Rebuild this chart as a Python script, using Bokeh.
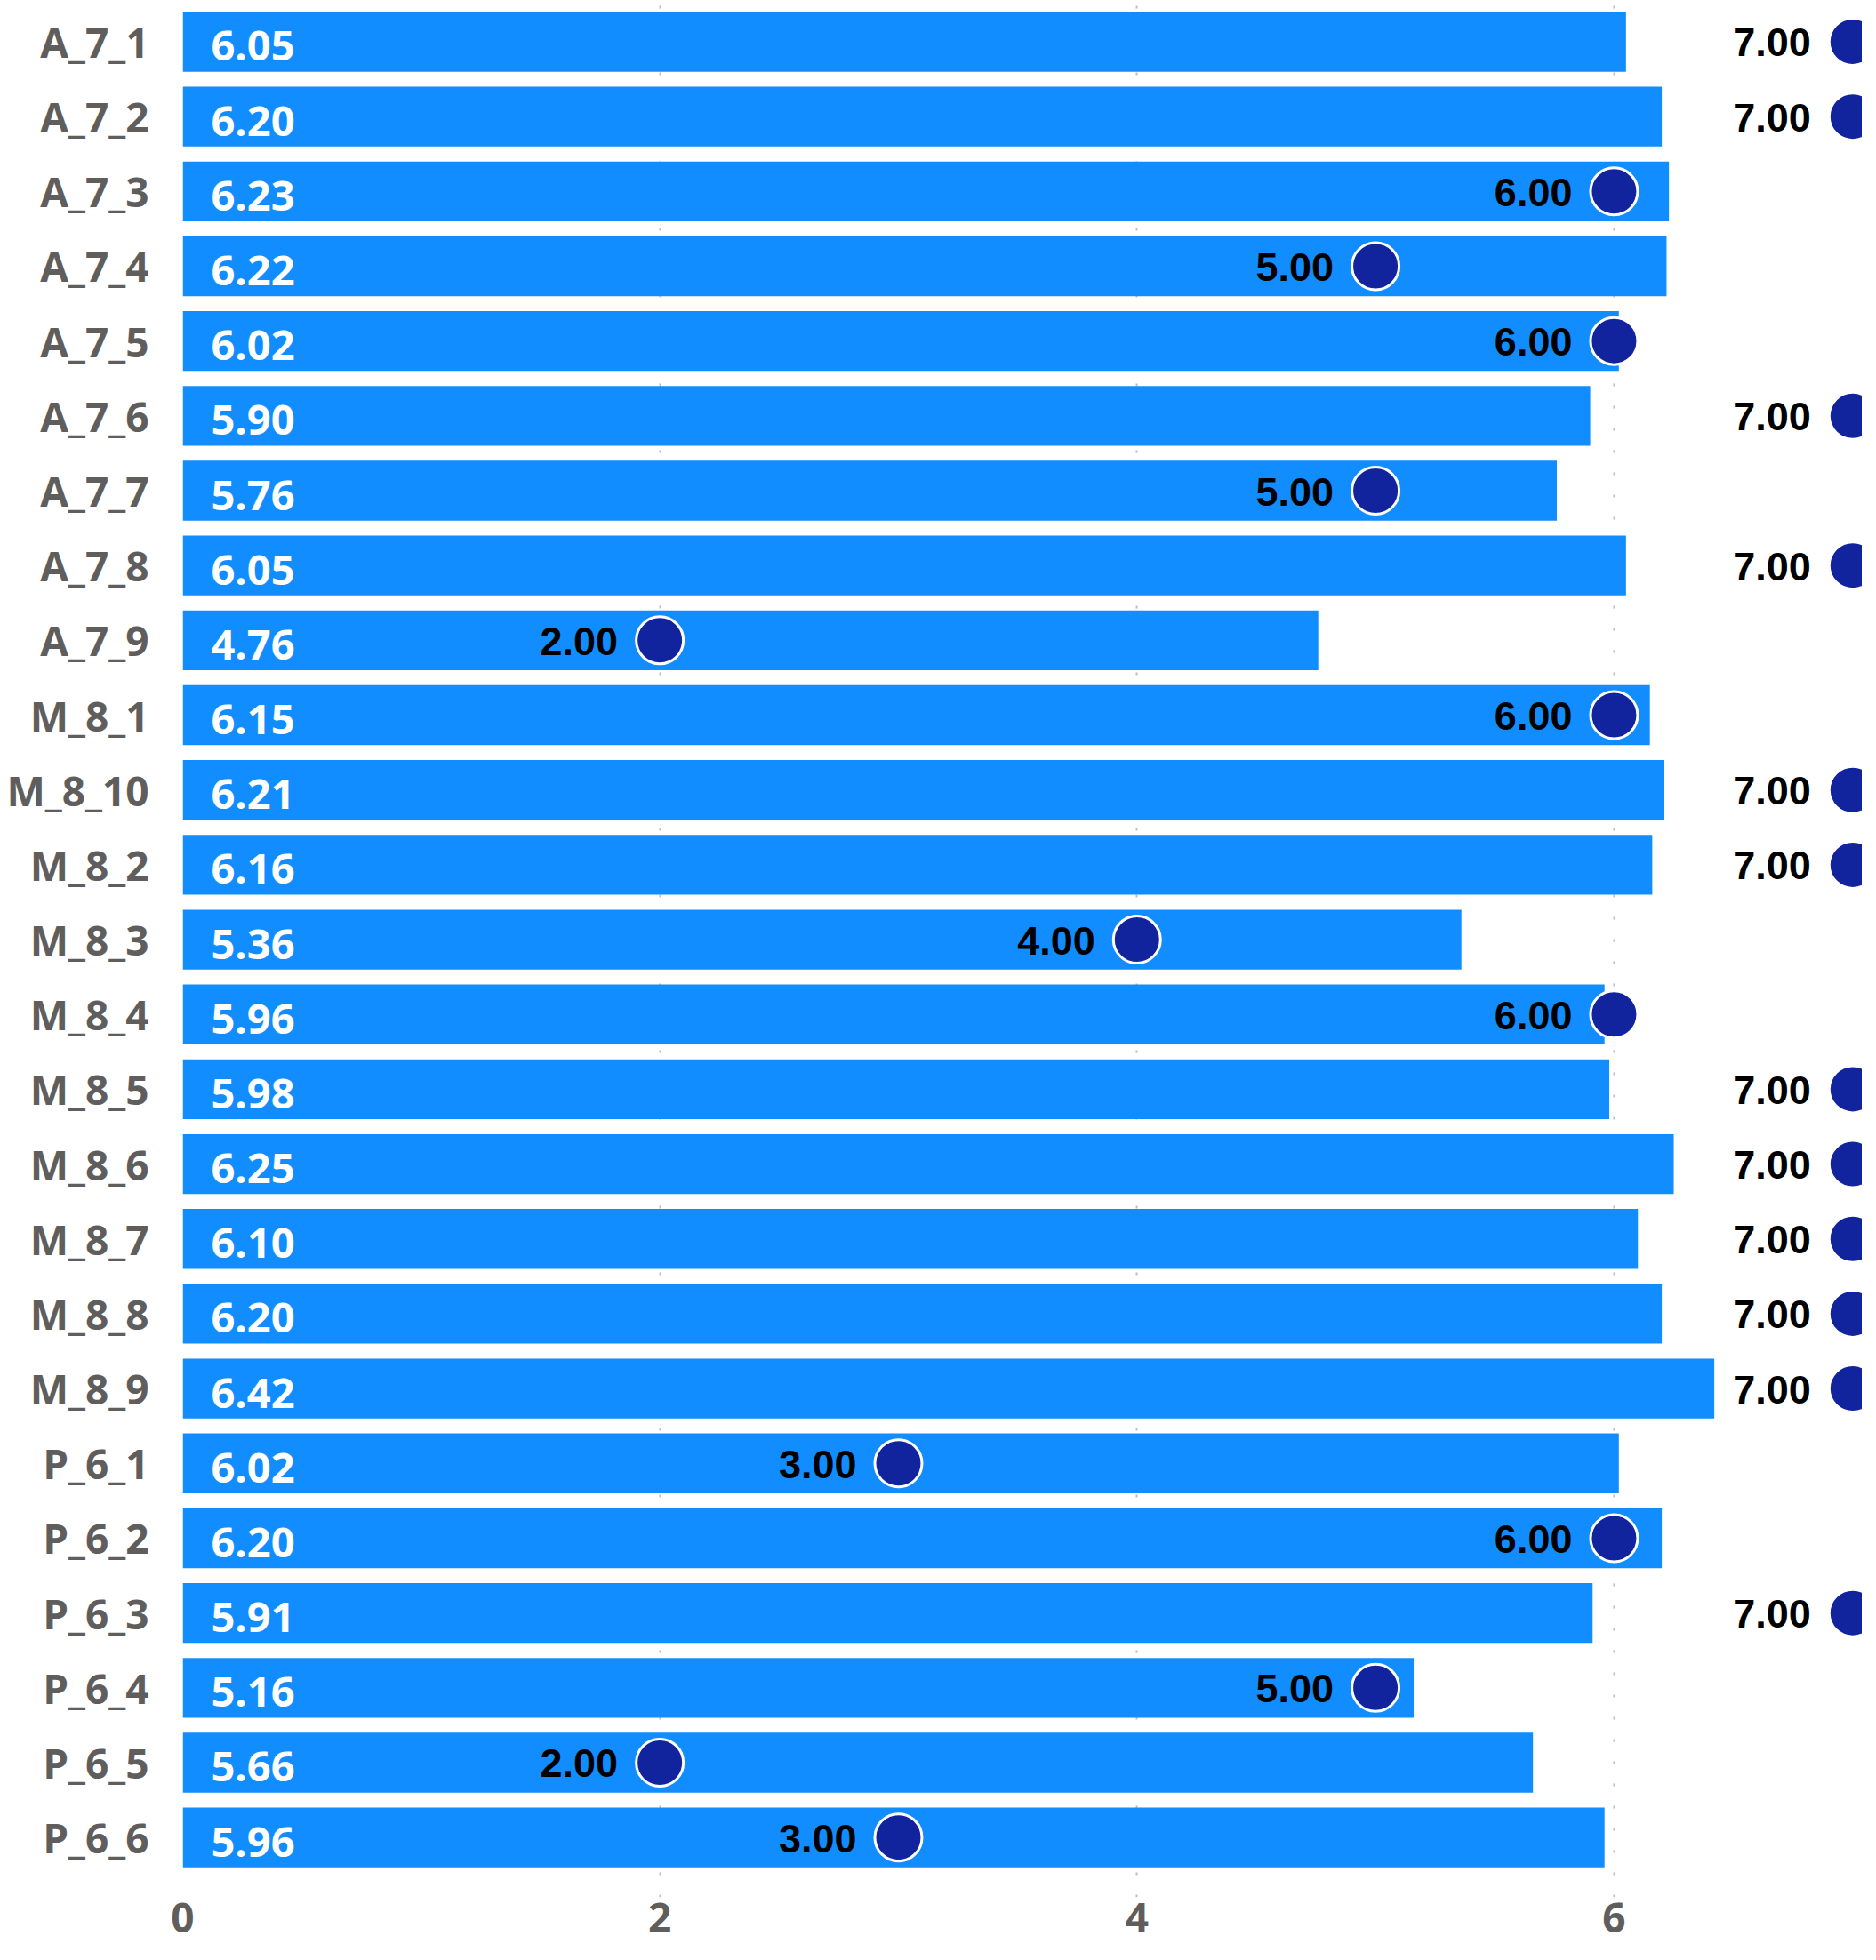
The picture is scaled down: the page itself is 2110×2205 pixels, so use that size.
from bokeh.plotting import figure
from bokeh.models import ColumnDataSource, Range1d, FixedTicker
from bokeh.core.properties import value
from bokeh.embed import file_html
from bokeh.resources import INLINE

categories = ["A_7_1", "A_7_2", "A_7_3", "A_7_4", "A_7_5", "A_7_6", "A_7_7", "A_7_8", "A_7_9",
              "M_8_1", "M_8_10", "M_8_2", "M_8_3", "M_8_4", "M_8_5", "M_8_6", "M_8_7", "M_8_8", "M_8_9",
              "P_6_1", "P_6_2", "P_6_3", "P_6_4", "P_6_5", "P_6_6"]
bar_values = [6.05, 6.20, 6.23, 6.22, 6.02, 5.90, 5.76, 6.05, 4.76,
              6.15, 6.21, 6.16, 5.36, 5.96, 5.98, 6.25, 6.10, 6.20, 6.42,
              6.02, 6.20, 5.91, 5.16, 5.66, 5.96]
target_values = [7, 7, 6, 5, 6, 7, 5, 7, 2,
                 6, 7, 7, 4, 6, 7, 7, 7, 7, 7,
                 3, 6, 7, 5, 2, 3]
x_ticks = [0, 2, 4, 6]

n = len(categories)
ypos = [n - 1 - i for i in range(n)]

src = ColumnDataSource(dict(
    y=ypos,
    bar=bar_values,
    target=target_values,
    bar_lbl=[f"{v:.2f}" for v in bar_values],
    tgt_lbl=[f"{v:.2f}" for v in target_values],
))

p = figure(width=2094, height=2189, output_backend="svg", toolbar_location=None,
           x_range=Range1d(0, 7.04), y_range=Range1d(-0.80, n - 1 + 0.552),
           min_border_left=205, min_border_right=0, min_border_top=0, min_border_bottom=55)
p.outline_line_color = None
p.background_fill_color = "white"
p.border_fill_color = "white"

# grid
p.ygrid.visible = False
p.xgrid.ticker = FixedTicker(ticks=x_ticks)
p.xgrid.grid_line_color = "#bdbdbd"
p.xgrid.grid_line_width = 2
p.xgrid.grid_line_dash = "3 22"

# bars
p.hbar(y="y", left=0, right="bar", height=0.8, source=src,
       fill_color="#118DFF", line_color=None)

# bar value labels
p.text(x=0, y="y", text="bar_lbl", source=src, x_offset=32, y_offset=5,
       text_align="left", text_baseline="middle", text_color="white",
       text_font=value("Open Sans"), text_font_style="bold", text_font_size="47px")

# target dots
p.scatter(x="target", y="y", source=src, size=53, fill_color="#12239E",
          line_color="white", line_width=3)

# target labels
p.text(x="target", y="y", text="tgt_lbl", source=src, x_offset=-47, y_offset=1,
       text_align="right", text_baseline="middle", text_color="black",
       text_font=value("Liberation Sans"), text_font_style="bold", text_font_size="45px")

# axes
p.xaxis.ticker = FixedTicker(ticks=x_ticks)
p.xaxis.axis_line_color = None
p.xaxis.major_tick_line_color = None
p.xaxis.minor_tick_line_color = None
p.xaxis.major_tick_out = 0
p.xaxis.minor_tick_out = 0
p.xaxis.major_label_text_font = "Open Sans"
p.xaxis.major_label_text_font_style = "bold"
p.xaxis.major_label_text_font_size = "46px"
p.xaxis.major_label_text_color = "#605E5C"
p.xaxis.major_label_standoff = 6

p.yaxis.ticker = FixedTicker(ticks=ypos)
p.yaxis.major_label_overrides = {y: c for y, c in zip(ypos, categories)}
p.yaxis.axis_line_color = None
p.yaxis.major_tick_line_color = None
p.yaxis.minor_tick_line_color = None
p.yaxis.major_tick_out = 0
p.yaxis.minor_tick_out = 0
p.yaxis.major_label_text_font = "Open Sans"
p.yaxis.major_label_text_font_style = "bold"
p.yaxis.major_label_text_font_size = "46px"
p.yaxis.major_label_text_color = "#605E5C"
p.yaxis.major_label_standoff = 38

open("out.html", "w").write(file_html(p, INLINE))
